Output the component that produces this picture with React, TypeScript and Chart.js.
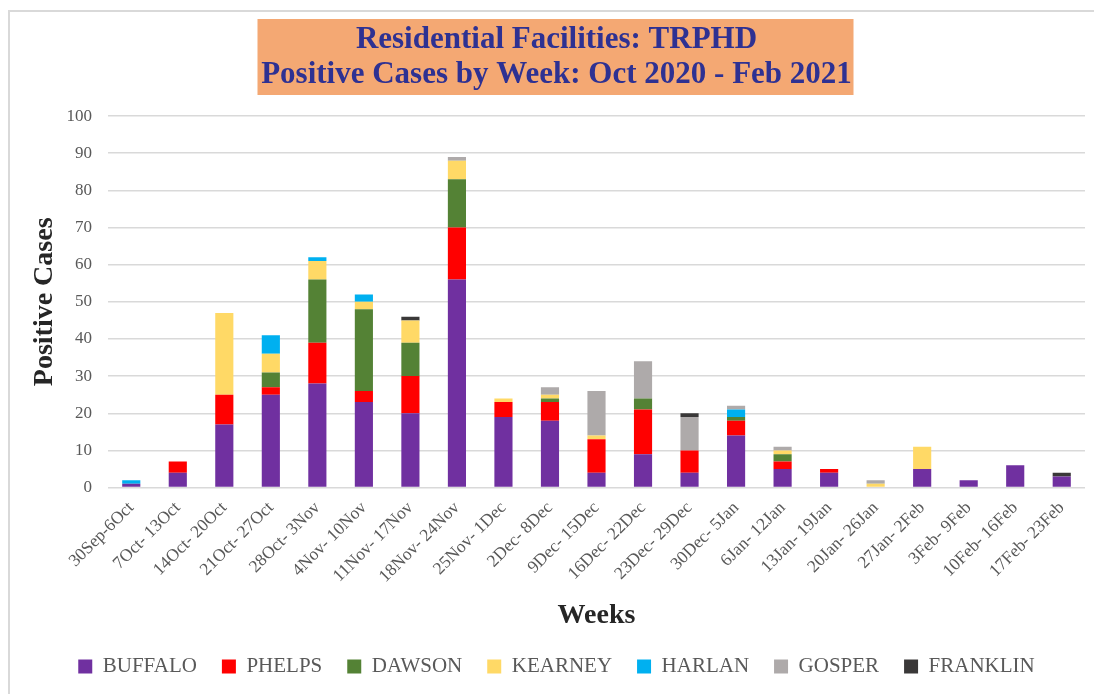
import React, { useEffect, useRef } from "react";
import { Chart, registerables } from "chart.js";

Chart.register(...registerables);

const weeks = [
  "30Sep-6Oct",
  "7Oct- 13Oct",
  "14Oct- 20Oct",
  "21Oct- 27Oct",
  "28Oct- 3Nov",
  "4Nov- 10Nov",
  "11Nov- 17Nov",
  "18Nov- 24Nov",
  "25Nov- 1Dec",
  "2Dec- 8Dec",
  "9Dec- 15Dec",
  "16Dec- 22Dec",
  "23Dec- 29Dec",
  "30Dec- 5Jan",
  "6Jan- 12Jan",
  "13Jan- 19Jan",
  "20Jan- 26Jan",
  "27Jan- 2Feb",
  "3Feb- 9Feb",
  "10Feb- 16Feb",
  "17Feb- 23Feb",
];

const buffalo = [1, 4, 17, 25, 28, 23, 20, 56, 19, 18, 4, 9, 4, 14, 5, 4, 0, 5, 2, 6, 3];
const phelps = [0, 3, 8, 2, 11, 3, 10, 14, 4, 5, 9, 12, 6, 4, 2, 1, 0, 0, 0, 0, 0];
const dawson = [0, 0, 0, 4, 17, 22, 9, 13, 0, 1, 0, 3, 0, 1, 2, 0, 0, 0, 0, 0, 0];
const kearney = [0, 0, 22, 5, 5, 2, 6, 5, 1, 1, 1, 0, 0, 0, 1, 0, 1, 6, 0, 0, 0];
const harlan = [1, 0, 0, 5, 1, 2, 0, 0, 0, 0, 0, 0, 0, 2, 0, 0, 0, 0, 0, 0, 0];
const gosper = [0, 0, 0, 0, 0, 0, 0, 1, 0, 2, 12, 10, 9, 1, 1, 0, 1, 0, 0, 0, 0];
const franklin = [0, 0, 0, 0, 0, 0, 1, 0, 0, 0, 0, 0, 1, 0, 0, 0, 0, 0, 0, 0, 1];

const seriesNames = ["BUFFALO", "PHELPS", "DAWSON", "KEARNEY", "HARLAN", "GOSPER", "FRANKLIN"];
const seriesValues = [buffalo, phelps, dawson, kearney, harlan, gosper, franklin];
const seriesColors = ["#7030A0", "#FF0000", "#548235", "#FFD966", "#00B0F0", "#AEAAAA", "#3A3838"];

const titleLines = ["Residential Facilities: TRPHD", "Positive Cases by Week: Oct 2020 - Feb 2021"];

const FONT = "'Liberation Serif', 'DejaVu Serif', serif";

const titleBoxPlugin = {
  id: "titleBox",
  beforeDraw(chart: any) {
    const tb = chart.titleBlock;
    if (!tb) return;
    const ctx = chart.ctx;
    const cx = (tb.left + tb.right) / 2 - 1;
    ctx.save();
    ctx.fillStyle = "#F4A873";
    ctx.fillRect(cx - 298, tb.top + 7, 596, 76);
    ctx.restore();
  },
};

export default function App() {
  const ref = useRef<HTMLCanvasElement | null>(null);

  useEffect(() => {
    if (!ref.current) return;
    const chart = new Chart(ref.current, {
      type: "bar",
      data: {
        labels: weeks,
        datasets: seriesNames.map((name, i) => ({
          label: name,
          data: seriesValues[i],
          backgroundColor: seriesColors[i],
          borderWidth: 0,
          categoryPercentage: 1,
          barPercentage: 0.39,
        })),
      },
      plugins: [titleBoxPlugin],
      options: {
        animation: false,
        responsive: true,
        maintainAspectRatio: false,
        layout: { padding: { left: 18, right: 9, bottom: 7 } },
        plugins: {
          title: {
            display: true,
            text: titleLines,
            color: "#2E3192",
            font: { family: FONT, size: 31, weight: "bold", lineHeight: 1.13 },
            padding: { top: 10.5, bottom: 23.5 },
          },
          legend: {
            display: true,
            position: "bottom",
            labels: {
              boxWidth: 14,
              boxHeight: 14,
              color: "#595959",
              font: { family: FONT, size: 21 },
              padding: 25,
            },
          },
          tooltip: { enabled: false },
        },
        scales: {
          x: {
            stacked: true,
            grid: { display: false },
            border: { display: false },
            ticks: {
              color: "#595959",
              font: { family: FONT, size: 17.5 },
              minRotation: 45,
              maxRotation: 45,
              autoSkip: false,
              padding: 2,
            },
            title: {
              display: true,
              text: "Weeks",
              color: "#262626",
              font: { family: FONT, size: 28, weight: "bold", lineHeight: 1 },
              padding: { top: 13, bottom: 1 },
            },
          },
          y: {
            stacked: true,
            min: 0,
            max: 100,
            border: { display: false },
            grid: { color: "#D9D9D9", lineWidth: 1.5, drawTicks: false },
            afterFit: (scale: any) => {
              scale.width = 80;
            },
            ticks: {
              stepSize: 10,
              color: "#595959",
              font: { family: FONT, size: 17 },
              padding: 16,
            },
            title: {
              display: true,
              text: "Positive Cases",
              color: "#262626",
              font: { family: FONT, size: 28, weight: "bold" },
              padding: { top: 0, bottom: 0 },
            },
          },
        },
      },
    });
    return () => chart.destroy();
  }, []);

  return (
    <div
      style={{
        position: "absolute",
        left: 8,
        top: 10,
        width: 1086,
        height: 684,
        boxSizing: "border-box",
        borderTop: "2px solid #D9D9D9",
        borderLeft: "2px solid #D9D9D9",
        background: "#FFFFFF",
      }}
    >
      <div style={{ position: "relative", width: 1084, height: 682 }}>
        <canvas ref={ref} />
      </div>
    </div>
  );
}
